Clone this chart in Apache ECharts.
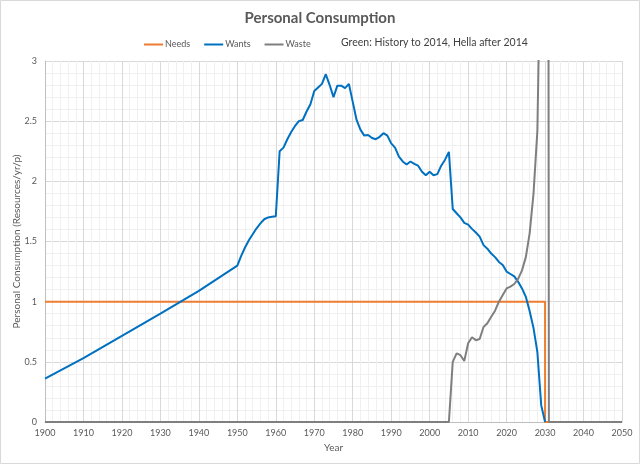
<!DOCTYPE html>
<html>
<head>
<meta charset="utf-8">
<script src="https://cdn.jsdelivr.net/npm/echarts@6/dist/echarts.min.js"></script>
<style>
  html, body { margin: 0; padding: 0; background: #fff; }
  #chart { width: 640px; height: 464px; }
</style>
</head>
<body>
<div id="chart"></div>
<script>
// data: [year, value]
var needsData = [[1900, 1], [2030, 1], [2030, 0], [2050, 0]];

var wantsData = [
  [1900, 0.36], [1910, 0.53], [1920, 0.715], [1930, 0.90], [1940, 1.09],
  [1950, 1.30], [1951, 1.38], [1952, 1.45], [1953, 1.51], [1954, 1.56],
  [1955, 1.61], [1956, 1.65], [1957, 1.685], [1958, 1.70], [1959, 1.705],
  [1960, 1.71], [1961, 2.25], [1962, 2.28], [1963, 2.35], [1964, 2.41],
  [1965, 2.46], [1966, 2.50], [1967, 2.51], [1968, 2.58], [1969, 2.64],
  [1970, 2.75], [1971, 2.78], [1972, 2.81], [1973, 2.89], [1974, 2.80],
  [1975, 2.70], [1976, 2.795], [1977, 2.795], [1978, 2.775], [1979, 2.81],
  [1980, 2.66], [1981, 2.51], [1982, 2.43], [1983, 2.38], [1984, 2.385],
  [1985, 2.36], [1986, 2.35], [1987, 2.37], [1988, 2.40], [1989, 2.38],
  [1990, 2.315], [1991, 2.28], [1992, 2.205], [1993, 2.165], [1994, 2.14],
  [1995, 2.165], [1996, 2.145], [1997, 2.13], [1998, 2.08], [1999, 2.05],
  [2000, 2.08], [2001, 2.05], [2002, 2.06], [2003, 2.13], [2004, 2.18],
  [2005, 2.245], [2006, 1.77], [2007, 1.735], [2008, 1.70], [2009, 1.655],
  [2010, 1.64], [2011, 1.605], [2012, 1.575], [2013, 1.54], [2014, 1.47],
  [2015, 1.44], [2016, 1.40], [2017, 1.37], [2018, 1.33], [2019, 1.305],
  [2020, 1.25], [2021, 1.23], [2022, 1.21], [2023, 1.165], [2024, 1.11],
  [2025, 1.04], [2026, 0.92], [2027, 0.78], [2028, 0.58], [2029, 0.14],
  [2030, 0]
];

var wasteData = [
  [1900, 0], [2005, 0], [2006, 0.50], [2007, 0.57], [2008, 0.555],
  [2009, 0.507], [2010, 0.654], [2011, 0.704], [2012, 0.68], [2013, 0.69],
  [2014, 0.79], [2015, 0.82], [2016, 0.875], [2017, 0.925], [2018, 1.0],
  [2019, 1.055], [2020, 1.11], [2021, 1.125], [2022, 1.147], [2023, 1.19],
  [2024, 1.26], [2025, 1.37], [2026, 1.57], [2027, 1.90], [2028, 2.42],
  [2029, 4.3], [2030, 30], [2031, 0], [2050, 0]
];

var seriesNames = ['Needs', 'Wants', 'Waste'];
var seriesColors = ['#ED7D31', '#0070C0', '#7F7F7F'];
var noteText = 'Green: History to 2014, Hella after 2014';

var font = 'Lato, "Open Sans", sans-serif';
var txt = '#595959';

function lineSeries(name, color, data) {
  return {
    name: name,
    type: 'line',
    data: data,
    symbol: 'none',
    clip: true,
    lineStyle: { color: color, width: 2 },
    itemStyle: { color: color }
  };
}

var chart = echarts.init(document.getElementById('chart'));
chart.setOption({
  animation: false,
  backgroundColor: '#fff',
  textStyle: { fontFamily: font },
  title: [{
    text: 'Personal Consumption',
    left: 'center',
    top: 6,
    textStyle: { fontFamily: font, fontSize: 15, fontWeight: 'bold', color: txt }
  }, {
    text: noteText,
    left: 336,
    top: 32,
    textStyle: { fontFamily: font, fontSize: 10.5, fontWeight: 'normal', color: '#404040' }
  }],
  legend: {
    data: seriesNames.map(function (n) { return { name: n, icon: 'rect' }; }),
    left: 139,
    top: 35,
    itemWidth: 19,
    itemHeight: 2,
    itemGap: 14,
    textStyle: { fontFamily: font, fontSize: 9, color: txt, padding: [0, 0, 0, -3] }
  },
  graphic: [{
    type: 'rect',
    shape: { x: 0.5, y: 0.5, width: 639, height: 463 },
    style: { fill: 'none', stroke: '#d9d9d9', lineWidth: 1 },
    silent: true
  }],
  grid: { left: 45, right: 18, top: 61, bottom: 42 },
  xAxis: {
    type: 'value',
    min: 1900,
    max: 2050,
    interval: 10,
    name: 'Year',
    nameLocation: 'middle',
    nameGap: 20,
    nameTextStyle: { fontFamily: font, fontSize: 10, color: txt },
    axisLine: { show: true, lineStyle: { color: '#bfbfbf' } },
    axisTick: { show: false },
    axisLabel: { fontFamily: font, fontSize: 9, color: txt, margin: 7,
      formatter: function (v) { return String(v); } },
    splitLine: { show: true, lineStyle: { color: '#d9d9d9' } },
    minorTick: { show: false, splitNumber: 5 },
    minorSplitLine: { show: true, lineStyle: { color: '#f0f0f0' } }
  },
  yAxis: {
    type: 'value',
    min: 0,
    max: 3,
    interval: 0.5,
    name: 'Personal Consumption (Resources/yr/p)',
    nameLocation: 'middle',
    nameGap: 23,
    nameMoveOverlap: false,
    nameTextStyle: { fontFamily: font, fontSize: 10, color: txt },
    axisLine: { show: true, lineStyle: { color: '#bfbfbf' } },
    axisTick: { show: false },
    axisLabel: { fontFamily: font, fontSize: 9, color: txt, margin: 8 },
    splitLine: { show: true, lineStyle: { color: '#d9d9d9' } },
    minorTick: { show: false, splitNumber: 5 },
    minorSplitLine: { show: true, lineStyle: { color: '#f0f0f0' } }
  },
  series: [
    lineSeries(seriesNames[0], seriesColors[0], needsData),
    lineSeries(seriesNames[1], seriesColors[1], wantsData),
    lineSeries(seriesNames[2], seriesColors[2], wasteData)
  ]
});
</script>
</body>
</html>
